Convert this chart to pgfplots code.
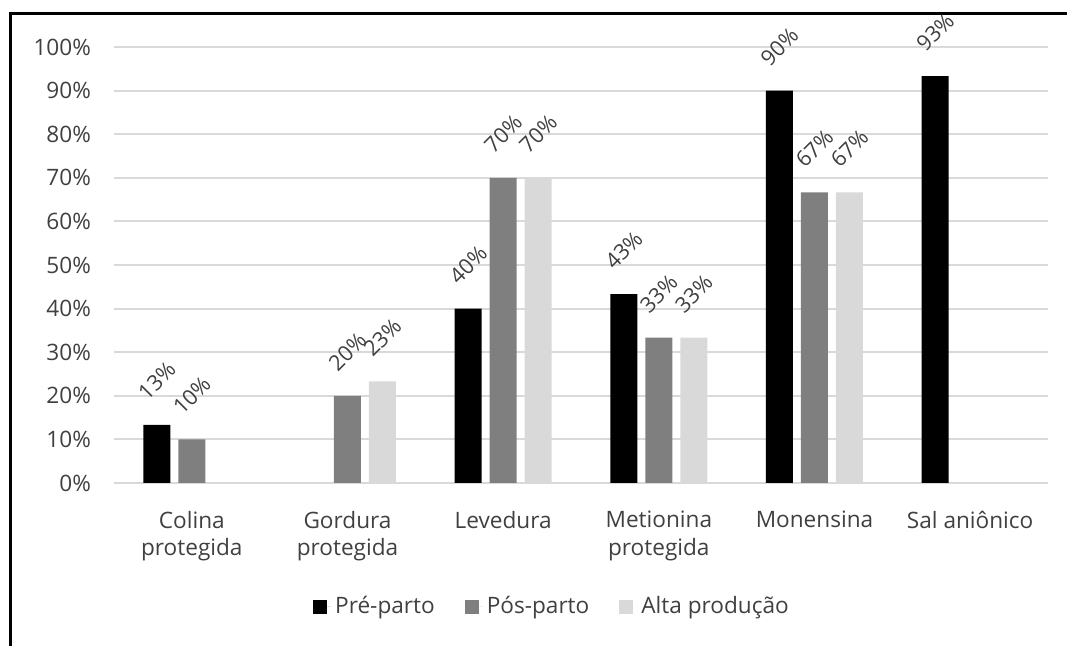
\documentclass[border=0pt]{standalone}
\usepackage{fontspec}
\setmainfont{Open Sans}
\usepackage{pgfplots}
\pgfplotsset{compat=1.18}
\definecolor{posc}{HTML}{7F7F7F}
\definecolor{altac}{HTML}{D9D9D9}
\definecolor{gridc}{HTML}{D9D9D9}
\definecolor{txt}{HTML}{404040}
\definecolor{lbl}{HTML}{404040}
\begin{document}
\begin{tikzpicture}
\useasboundingbox (0pt,0pt) rectangle (533.5pt,323pt);
\draw[line width=1.5pt] (5pt,-5pt) -- (5pt,316pt) -- (540pt,316pt);
\begin{axis}[
  at={(57pt,81.5pt)}, anchor=south west,
  scale only axis, width=467pt, height=218pt,
  ymin=0, ymax=100, xmin=-0.5, xmax=5.5,
  ytick={0,10,...,100},
  /pgf/number format/assume math mode=true,
  yticklabel={\pgfmathprintnumber{\tick}\%},
  ymajorgrids, grid style={gridc, line width=1pt},
  axis line style={draw=none},
  major tick length=0pt,
  tick style={draw=none},
  xtick={0,...,5},
  xticklabels={{Colina\\protegida},{Gordura\\protegida},{Levedura},{Metionina\\protegida},{Monensina},{Sal aniônico}},
  xticklabel style={align=center, font=\fontsize{11.3}{13.7}\selectfont, text=txt, yshift=-10.5pt},
  yticklabel style={font=\fontsize{11.3}{13.5}\selectfont, text=txt, xshift=-8pt},
  ybar=4pt, bar width=13.5pt,
  nodes near coords={\pgfmathprintnumber[fixed,precision=0]{\pgfplotspointmeta}\%},
  every node near coord/.append style={font=\fontsize{10.8}{12}\selectfont, text=lbl, anchor=center, yshift=22pt, rotate=45},
  legend columns=3,
  legend style={at={(axis description cs:0.47,-0.284)}, anchor=center, draw=none, font=\fontsize{11.3}{13.5}\selectfont, text=txt,
    /tikz/every even column/.append style={column sep=13pt}},
  legend image code/.code={\fill[#1] (0pt,-3.5pt) rectangle (7pt,3.5pt); \path (0pt,0pt) -- (9pt,0pt);},
]
\addplot[fill=black, draw=none] coordinates {(0,13.33) (2,40) (3,43.33) (4,90) (5,93.33)};
\addplot[fill=posc, draw=none] coordinates {(0,10) (1,20) (2,70) (3,33.33) (4,66.67)};
\addplot[fill=altac, draw=none] coordinates {(1,23.33) (2,70) (3,33.33) (4,66.67)};
\legend{Pré-parto, Pós-parto, Alta produção}
\end{axis}
\end{tikzpicture}
\end{document}
